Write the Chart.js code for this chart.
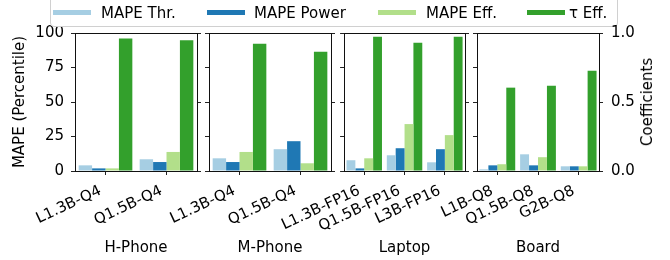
<!DOCTYPE html>
<html lang="en">
<head>
<meta charset="UTF-8" />
<title>MAPE and tau Eff. per device</title>
<script src="https://cdn.jsdelivr.net/npm/chart.js"></script>
<style>
    body {
        margin: 0;
        background: #fff;
        font-family: "DejaVu Sans", sans-serif;
    }

    #wrap {
        position: relative;
        width: 670px;
        height: 260px;
        overflow: hidden;
    }

    #wrap canvas {
        position: absolute;
        top: 0;
    }

    #legendBox {
        position: absolute;
        left: 50px;
        top: -8px;
        width: 566px;
        height: 33px;
        border: 1px solid #d0d0d0;
        border-radius: 4px;
        background: #fff;
        z-index: 4;
    }

    .sw {
        position: absolute;
        top: 10px;
        width: 38px;
        height: 5px;
        z-index: 5;
    }

    .lt {
        position: absolute;
        top: 3.5px;
        font-size: 15px;
        line-height: 18px;
        color: #000;
        white-space: nowrap;
        z-index: 5;
    }

    /* right axis title reads bottom to top, like the left one */
    #coefTitle {
        position: absolute;
        left: 647px;
        top: 102px;
        font-size: 15px;
        line-height: 18px;
        color: #000;
        white-space: nowrap;
        transform: translate(-50%, -50%) rotate(-90deg);
        z-index: 6;
    }
</style>
</head>
<body>
<div id="wrap">
    <div id="legendBox"></div>
    <div id="coefTitle">Coefficients</div>
</div>

<script>
    // data
    const panelNames = ['H-Phone', 'M-Phone', 'Laptop', 'Board'];
    const models = [
        ['L1.3B-Q4', 'Q1.5B-Q4'],
        ['L1.3B-Q4', 'Q1.5B-Q4'],
        ['L1.3B-FP16', 'Q1.5B-FP16', 'L3B-FP16'],
        ['L1B-Q8', 'Q1.5B-Q8', 'G2B-Q8']
    ];
    const seriesNames = ['MAPE Thr.', 'MAPE Power', 'MAPE Eff.', 'τ Eff.'];
    const mapeThr = [[4.1, 8.5], [9.2, 15.8], [7.8, 11.4, 6.3], [1.2, 12.1, 3.4]];
    const mapePower = [[1.9, 6.5], [6.5, 21.6], [1.9, 16.5, 15.8], [4.1, 4.1, 3.4]];
    const mapeEff = [[1.9, 13.8], [13.8, 5.6], [9.2, 34, 26], [4.9, 10, 3.4]];
    const tauEff = [[0.96, 0.947], [0.922, 0.864], [0.973, 0.93, 0.973], [0.604, 0.617, 0.726]];

    const colors = ['#a6cee3', '#1f78b4', '#b2df8a', '#33a02c'];

    Chart.defaults.font.family = '"DejaVu Sans", sans-serif';
    Chart.defaults.color = '#000';

    const wrap = document.getElementById('wrap');
    const plotLeft = [75, 209, 343, 477];
    const plotW = 122;
    const leftW = 75;
    const rightW = 72;

    // legend (html)
    const swLeft = [53, 207, 378, 527];
    const txtLeft = [101, 254, 426, 569];
    seriesNames.forEach((name, k) => {
        const sw = document.createElement('div');
        sw.className = 'sw';
        sw.style.left = swLeft[k] + 'px';
        sw.style.background = colors[k];
        wrap.appendChild(sw);
        const t = document.createElement('div');
        t.className = 'lt';
        t.style.left = txtLeft[k] + 'px';
        t.textContent = name;
        wrap.appendChild(t);
    });

    const frame = {
        id: 'frame',
        afterDatasetsDraw(chart) {
            const a = chart.chartArea;
            const ctx = chart.ctx;
            const x0 = Math.floor(a.left) + 0.5, x1 = Math.floor(a.right) + 0.5;
            const y0 = Math.floor(a.top) + 0.5, y1 = Math.floor(a.bottom) + 0.5;
            ctx.save();
            ctx.strokeStyle = '#111';
            ctx.lineWidth = 1;
            ctx.strokeRect(x0, y0, x1 - x0, y1 - y0);
            ctx.restore();
        }
    };

    const tickGrid = { drawOnChartArea: false, drawTicks: true, tickLength: 4, color: '#222', lineWidth: 1 };

    panelNames.forEach((panel, i) => {
        const canvas = document.createElement('canvas');
        const w = leftW + plotW + rightW;
        canvas.width = w;
        canvas.height = 260;
        canvas.style.left = (plotLeft[i] - leftW) + 'px';
        canvas.style.width = w + 'px';
        canvas.style.height = '260px';
        canvas.style.zIndex = i + 1;
        wrap.appendChild(canvas);

        new Chart(canvas, {
            type: 'bar',
            data: {
                labels: models[i],
                datasets: [
                    { label: seriesNames[0], data: mapeThr[i], backgroundColor: colors[0], yAxisID: 'y' },
                    { label: seriesNames[1], data: mapePower[i], backgroundColor: colors[1], yAxisID: 'y' },
                    { label: seriesNames[2], data: mapeEff[i], backgroundColor: colors[2], yAxisID: 'y' },
                    { label: seriesNames[3], data: tauEff[i], backgroundColor: colors[3], yAxisID: 'y1' }
                ]
            },
            options: {
                responsive: false,
                animation: false,
                layout: { padding: { top: 33, left: 0, right: 0, bottom: 0 } },
                datasets: {
                    bar: { categoryPercentage: 0.88, barPercentage: 1, borderWidth: 0 }
                },
                plugins: {
                    legend: { display: false },
                    tooltip: { enabled: false }
                },
                scales: {
                    x: {
                        grid: Object.assign({ offset: false }, tickGrid),
                        border: { display: false },
                        ticks: {
                            minRotation: 25,
                            maxRotation: 25,
                            autoSkip: false,
                            padding: 7,
                            labelOffset: -5,
                            font: { size: 15 }
                        },
                        title: {
                            display: true,
                            text: panel,
                            font: { size: 15 },
                            padding: { top: 0, bottom: 3 }
                        },
                        afterFit: s => { s.height = 89; }
                    },
                    y: {
                        position: 'left',
                        min: 0,
                        max: 100,
                        grid: tickGrid,
                        border: { display: false },
                        ticks: { stepSize: 25, display: i === 0, padding: 7, font: { size: 15 } },
                        title: {
                            display: i === 0,
                            text: 'MAPE (Percentile)',
                            font: { size: 15 },
                            padding: { top: 11, bottom: 0 }
                        },
                        afterFit: s => { s.width = leftW; }
                    },
                    y1: {
                        position: 'right',
                        min: 0,
                        max: 1,
                        grid: tickGrid,
                        border: { display: false },
                        ticks: {
                            stepSize: 0.5,
                            display: i === 3,
                            padding: 8,
                            font: { size: 15 },
                            callback: v => v.toFixed(1)
                        },
                        afterFit: s => { s.width = rightW; }
                    }
                }
            },
            plugins: [frame]
        });
    });
</script>
</body>
</html>
